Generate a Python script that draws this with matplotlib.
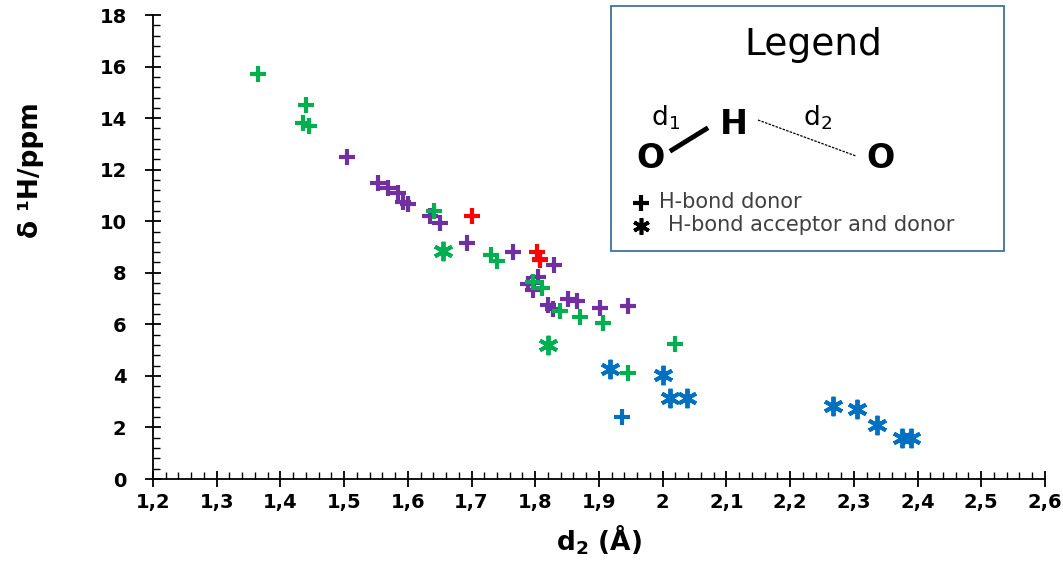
import matplotlib
matplotlib.use('Agg')
import matplotlib.pyplot as plt
from matplotlib.ticker import MultipleLocator, FuncFormatter
from matplotlib.patches import Rectangle

# data: d2 (Å) vs delta 1H (ppm)
green_plus_x = [1.365, 1.44, 1.435, 1.445, 1.641, 1.73, 1.74, 1.797, 1.81, 1.839, 1.87, 1.906, 2.019, 1.946]
green_plus_y = [15.7, 14.5, 13.8, 13.7, 10.4, 8.7, 8.45, 7.65, 7.4, 6.5, 6.3, 6.05, 5.25, 4.1]
green_star_x = [1.655, 1.82]
green_star_y = [8.85, 5.2]
red_plus_x = [1.70, 1.803, 1.807]
red_plus_y = [10.2, 8.8, 8.5]
purple_plus_x = [1.504, 1.553, 1.569, 1.585, 1.592, 1.60, 1.635, 1.65, 1.693, 1.765, 1.807, 1.83,
                 1.805, 1.789, 1.797, 1.82, 1.828, 1.852, 1.865, 1.902, 1.946]
purple_plus_y = [12.5, 11.5, 11.3, 11.1, 10.75, 10.65, 10.2, 9.95, 9.15, 8.8, 8.55, 8.3,
                 7.85, 7.55, 7.35, 6.75, 6.6, 7.0, 6.9, 6.65, 6.7]
blue_star_x = [1.917, 2.0, 2.011, 2.038, 2.267, 2.305, 2.336, 2.375, 2.39]
blue_star_y = [4.25, 4.03, 3.15, 3.15, 2.85, 2.7, 2.1, 1.6, 1.6]
blue_plus_x = [1.936]
blue_plus_y = [2.4]

GREEN, PURPLE, RED, BLUE = '#00B050', '#7030A0', '#FF0000', '#0070C0'
STAR = (6, 2, 0)

fig = plt.figure(figsize=(10.63, 5.71), dpi=100)
ax = fig.add_axes([0.1439, 0.1611, 0.8391, 0.8126])

pk = dict(linestyle='none', markersize=11, markeredgewidth=3)
sk = dict(linestyle='none', markersize=14, markeredgewidth=2.8)
ax.plot(purple_plus_x, purple_plus_y, marker='+', color=PURPLE, **pk)
ax.plot(green_plus_x, green_plus_y, marker='+', color=GREEN, **pk)
ax.plot(red_plus_x, red_plus_y, marker='+', color=RED, **pk)
ax.plot(blue_plus_x, blue_plus_y, marker='+', color=BLUE, **pk)
ax.plot(green_star_x, green_star_y, marker=STAR, color=GREEN, **sk)
ax.plot(blue_star_x, blue_star_y, marker=STAR, color=BLUE, **sk)

ax.set_xlim(1.2, 2.6)
ax.set_ylim(0, 18)
ax.spines['top'].set_visible(False)
ax.spines['right'].set_visible(False)
for s in ('left', 'bottom'):
    ax.spines[s].set_linewidth(1.3)
ax.xaxis.set_major_locator(MultipleLocator(0.1))
ax.xaxis.set_minor_locator(MultipleLocator(0.02))
ax.yaxis.set_major_locator(MultipleLocator(2))
ax.yaxis.set_minor_locator(MultipleLocator(0.4))
ax.xaxis.set_major_formatter(FuncFormatter(lambda v, p: ('%g' % round(v, 1)).replace('.', ',')))
ax.tick_params(which='major', direction='inout', length=12, width=1.3, labelsize=14)
ax.tick_params(axis='y', which='major', pad=13)
ax.tick_params(axis='x', which='major', pad=4)
ax.tick_params(which='minor', direction='in', length=5, width=1)
for lab in ax.get_xticklabels() + ax.get_yticklabels():
    lab.set_fontweight('bold')
ax.set_xlabel(r'd$_\mathbf{2}$ (Å)', fontsize=19, fontweight='bold', labelpad=8)
ax.set_ylabel('δ ¹H/ppm', fontsize=19, fontweight='bold')
ax.yaxis.set_label_coords(-0.122, 0.666)

# legend box drawn in pixel coordinates
lax = fig.add_axes([610 / 1063, (571 - 252) / 571, 395 / 1063, 247 / 571])
lax.set_xlim(610, 1005)
lax.set_ylim(252, 5)
lax.axis('off')
lax.add_patch(Rectangle((611, 6), 393, 245, fill=False, edgecolor='#41719C', linewidth=1.3))
lax.text(813, 45, 'Legend', fontsize=27, ha='center', va='center')
lax.text(666, 118, r'd$_1$', fontsize=19, ha='center', va='center')
lax.text(734, 124, 'H', fontsize=24, fontweight='bold', ha='center', va='center')
lax.text(818, 118, r'd$_2$', fontsize=19, ha='center', va='center')
lax.text(651, 158, 'O', fontsize=24, fontweight='bold', ha='center', va='center')
lax.text(880, 158, 'O', fontsize=24, fontweight='bold', ha='center', va='center')
lax.plot([672, 706], [150, 129], color='black', linewidth=3.5)
lax.plot([758, 856], [120, 156], color='black', linewidth=0.9, linestyle=(0, (2, 1)))
lax.plot([641], [203], marker='+', color='black', markersize=11, markeredgewidth=3)
lax.plot([641], [226], marker=STAR, color='black', markersize=12, markeredgewidth=2.6)
lax.text(659, 202, 'H-bond donor', fontsize=15, color='#404040', va='center')
lax.text(668, 225, 'H-bond acceptor and donor', fontsize=15, color='#404040', va='center')

fig.savefig('out.png', dpi=100)
